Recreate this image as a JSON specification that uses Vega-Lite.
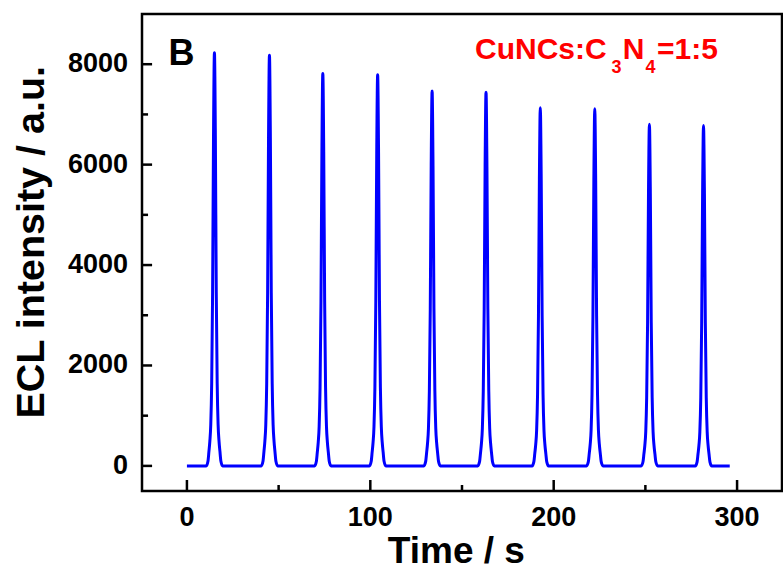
{
  "$schema": "https://vega.github.io/schema/vega-lite/v6.json",
  "width": 640,
  "height": 477,
  "autosize": {"type": "none"},
  "padding": {"left": 142, "top": 14, "right": 1, "bottom": 82},
  "background": "white",
  "config": {
    "view": {"stroke": "black", "strokeWidth": 2.5}
  },
  "data": {"values": [
    {"t": 0, "v": 0},
    {"t": 10.5, "v": 0}, {"t": 11.5, "v": 99}, {"t": 12, "v": 288}, {"t": 12.5, "v": 494}, {"t": 13, "v": 823}, {"t": 13.5, "v": 1646}, {"t": 14, "v": 3457}, {"t": 14.5, "v": 6584}, {"t": 15, "v": 8230}, {"t": 15.5, "v": 6584}, {"t": 16, "v": 3457}, {"t": 16.5, "v": 1646}, {"t": 17, "v": 823}, {"t": 17.5, "v": 494}, {"t": 18, "v": 288}, {"t": 18.5, "v": 99}, {"t": 19.5, "v": 0},
    {"t": 40.5, "v": 0}, {"t": 41.5, "v": 98}, {"t": 42, "v": 286}, {"t": 42.5, "v": 491}, {"t": 43, "v": 818}, {"t": 43.5, "v": 1636}, {"t": 44, "v": 3436}, {"t": 44.5, "v": 6544}, {"t": 45, "v": 8180}, {"t": 45.5, "v": 6544}, {"t": 46, "v": 3436}, {"t": 46.5, "v": 1636}, {"t": 47, "v": 818}, {"t": 47.5, "v": 491}, {"t": 48, "v": 286}, {"t": 48.5, "v": 98}, {"t": 49.5, "v": 0},
    {"t": 69.6, "v": 0}, {"t": 70.6, "v": 94}, {"t": 71.1, "v": 274}, {"t": 71.6, "v": 469}, {"t": 72.1, "v": 782}, {"t": 72.6, "v": 1563}, {"t": 73.1, "v": 3283}, {"t": 73.6, "v": 6254}, {"t": 74.1, "v": 7817}, {"t": 74.6, "v": 6254}, {"t": 75.1, "v": 3283}, {"t": 75.6, "v": 1563}, {"t": 76.1, "v": 782}, {"t": 76.6, "v": 469}, {"t": 77.1, "v": 274}, {"t": 77.6, "v": 94}, {"t": 78.6, "v": 0},
    {"t": 99.5, "v": 0}, {"t": 100.5, "v": 93}, {"t": 101, "v": 273}, {"t": 101.5, "v": 467}, {"t": 102, "v": 779}, {"t": 102.5, "v": 1558}, {"t": 103, "v": 3272}, {"t": 103.5, "v": 6232}, {"t": 104, "v": 7790}, {"t": 104.5, "v": 6232}, {"t": 105, "v": 3272}, {"t": 105.5, "v": 1558}, {"t": 106, "v": 779}, {"t": 106.5, "v": 467}, {"t": 107, "v": 273}, {"t": 107.5, "v": 93}, {"t": 108.5, "v": 0},
    {"t": 129.2, "v": 0}, {"t": 130.2, "v": 90}, {"t": 130.7, "v": 261}, {"t": 131.2, "v": 448}, {"t": 131.7, "v": 746}, {"t": 132.2, "v": 1493}, {"t": 132.7, "v": 3135}, {"t": 133.2, "v": 5971}, {"t": 133.7, "v": 7464}, {"t": 134.2, "v": 5971}, {"t": 134.7, "v": 3135}, {"t": 135.2, "v": 1493}, {"t": 135.7, "v": 746}, {"t": 136.2, "v": 448}, {"t": 136.7, "v": 261}, {"t": 137.2, "v": 90}, {"t": 138.2, "v": 0},
    {"t": 158.6, "v": 0}, {"t": 159.6, "v": 89}, {"t": 160.1, "v": 261}, {"t": 160.6, "v": 447}, {"t": 161.1, "v": 744}, {"t": 161.6, "v": 1489}, {"t": 162.1, "v": 3126}, {"t": 162.6, "v": 5955}, {"t": 163.1, "v": 7444}, {"t": 163.6, "v": 5955}, {"t": 164.1, "v": 3126}, {"t": 164.6, "v": 1489}, {"t": 165.1, "v": 744}, {"t": 165.6, "v": 447}, {"t": 166.1, "v": 261}, {"t": 166.6, "v": 89}, {"t": 167.6, "v": 0},
    {"t": 188.2, "v": 0}, {"t": 189.2, "v": 86}, {"t": 189.7, "v": 250}, {"t": 190.2, "v": 428}, {"t": 190.7, "v": 713}, {"t": 191.2, "v": 1426}, {"t": 191.7, "v": 2995}, {"t": 192.2, "v": 5705}, {"t": 192.7, "v": 7131}, {"t": 193.2, "v": 5705}, {"t": 193.7, "v": 2995}, {"t": 194.2, "v": 1426}, {"t": 194.7, "v": 713}, {"t": 195.2, "v": 428}, {"t": 195.7, "v": 250}, {"t": 196.2, "v": 86}, {"t": 197.2, "v": 0},
    {"t": 217.9, "v": 0}, {"t": 218.9, "v": 85}, {"t": 219.4, "v": 249}, {"t": 219.9, "v": 427}, {"t": 220.4, "v": 711}, {"t": 220.9, "v": 1422}, {"t": 221.4, "v": 2987}, {"t": 221.9, "v": 5689}, {"t": 222.4, "v": 7111}, {"t": 222.9, "v": 5689}, {"t": 223.4, "v": 2987}, {"t": 223.9, "v": 1422}, {"t": 224.4, "v": 711}, {"t": 224.9, "v": 427}, {"t": 225.4, "v": 249}, {"t": 225.9, "v": 85}, {"t": 226.9, "v": 0},
    {"t": 247.7, "v": 0}, {"t": 248.7, "v": 82}, {"t": 249.2, "v": 238}, {"t": 249.7, "v": 408}, {"t": 250.2, "v": 680}, {"t": 250.7, "v": 1361}, {"t": 251.2, "v": 2857}, {"t": 251.7, "v": 5442}, {"t": 252.2, "v": 6803}, {"t": 252.7, "v": 5442}, {"t": 253.2, "v": 2857}, {"t": 253.7, "v": 1361}, {"t": 254.2, "v": 680}, {"t": 254.7, "v": 408}, {"t": 255.2, "v": 238}, {"t": 255.7, "v": 82}, {"t": 256.7, "v": 0},
    {"t": 277.2, "v": 0}, {"t": 278.2, "v": 81}, {"t": 278.7, "v": 237}, {"t": 279.2, "v": 407}, {"t": 279.7, "v": 678}, {"t": 280.2, "v": 1355}, {"t": 280.7, "v": 2846}, {"t": 281.2, "v": 5422}, {"t": 281.7, "v": 6777}, {"t": 282.2, "v": 5422}, {"t": 282.7, "v": 2846}, {"t": 283.2, "v": 1355}, {"t": 283.7, "v": 678}, {"t": 284.2, "v": 407}, {"t": 284.7, "v": 237}, {"t": 285.2, "v": 81}, {"t": 286.2, "v": 0},
    {"t": 296, "v": 0}
  ]},
  "layer": [
    {
      "mark": {"type": "line", "color": "#0000ff", "strokeWidth": 3, "interpolate": "monotone"},
      "encoding": {
        "x": {"field": "t", "type": "quantitative", "scale": {"domain": [-24.5, 324.5], "nice": false, "zero": false}, "axis": null},
        "y": {"field": "v", "type": "quantitative", "scale": {"domain": [-500, 9000], "nice": false, "zero": false}, "axis": null}
      }
    },
    {
      "data": {"values": [{"tick": 0}, {"tick": 100}, {"tick": 200}, {"tick": 300}]},
      "mark": {"type": "rule", "color": "black", "strokeWidth": 2.5},
      "encoding": {"x": {"field": "tick", "type": "quantitative", "axis": null}, "y": {"datum": -500, "type": "quantitative", "axis": null}, "y2": {"datum": -281}}
    },
    {
      "data": {"values": [{"tick": 50}, {"tick": 150}, {"tick": 250}]},
      "mark": {"type": "rule", "color": "black", "strokeWidth": 2.5},
      "encoding": {"x": {"field": "tick", "type": "quantitative", "axis": null}, "y": {"datum": -500, "type": "quantitative", "axis": null}, "y2": {"datum": -380}}
    },
    {
      "data": {"values": [{"tick": 0}, {"tick": 2000}, {"tick": 4000}, {"tick": 6000}, {"tick": 8000}]},
      "mark": {"type": "rule", "color": "black", "strokeWidth": 2.5},
      "encoding": {"y": {"field": "tick", "type": "quantitative", "axis": null}, "x": {"datum": -24.5, "type": "quantitative", "axis": null}, "x2": {"datum": -19.0}}
    },
    {
      "data": {"values": [{"tick": 1000}, {"tick": 3000}, {"tick": 5000}, {"tick": 7000}]},
      "mark": {"type": "rule", "color": "black", "strokeWidth": 2.5},
      "encoding": {"y": {"field": "tick", "type": "quantitative", "axis": null}, "x": {"datum": -24.5, "type": "quantitative", "axis": null}, "x2": {"datum": -21.2}}
    },
    {
      "data": {"values": [{"tick": 0}, {"tick": 100}, {"tick": 200}, {"tick": 300}]},
      "mark": {"type": "text", "font": "Liberation Sans", "fontWeight": "bold", "fontSize": 27, "color": "black", "align": "center", "baseline": "alphabetic"},
      "encoding": {"x": {"field": "tick", "type": "quantitative", "axis": null}, "y": {"datum": -1198, "type": "quantitative", "axis": null}, "text": {"field": "tick", "type": "quantitative", "format": "d"}}
    },
    {
      "data": {"values": [{"tick": 0}, {"tick": 2000}, {"tick": 4000}, {"tick": 6000}, {"tick": 8000}]},
      "mark": {"type": "text", "font": "Liberation Sans", "fontWeight": "bold", "fontSize": 27, "color": "black", "align": "right", "baseline": "middle"},
      "encoding": {"y": {"field": "tick", "type": "quantitative", "axis": null}, "x": {"datum": -32.1, "type": "quantitative", "axis": null}, "text": {"field": "tick", "type": "quantitative", "format": "d"}}
    },
    {
      "data": {"values": [{}]},
      "mark": {"type": "text", "text": "Time / s", "font": "Liberation Sans", "fontWeight": "bold", "fontSize": 37, "color": "black", "align": "center", "baseline": "alphabetic"},
      "encoding": {"x": {"datum": 146.9, "type": "quantitative", "axis": null}, "y": {"datum": -1935, "type": "quantitative", "axis": null}}
    },
    {
      "data": {"values": [{}]},
      "mark": {"type": "text", "text": "ECL intensity / a.u.", "font": "Liberation Sans", "fontWeight": "bold", "fontSize": 39.5, "color": "black", "align": "center", "baseline": "alphabetic", "angle": 270},
      "encoding": {"x": {"datum": -77.7, "type": "quantitative", "axis": null}, "y": {"datum": 4454, "type": "quantitative", "axis": null}}
    },
    {
      "data": {"values": [{}]},
      "mark": {"type": "text", "text": "B", "font": "Liberation Sans", "fontWeight": "bold", "fontSize": 36, "color": "black", "align": "left", "baseline": "alphabetic"},
      "encoding": {"x": {"datum": -10, "type": "quantitative", "axis": null}, "y": {"datum": 7986, "type": "quantitative", "axis": null}}
    },
    {
      "data": {"values": [{}]},
      "mark": {"type": "text", "text": "CuNCs:C", "font": "Liberation Sans", "fontWeight": "bold", "fontSize": 30, "color": "#ff0000", "align": "left", "baseline": "alphabetic"},
      "encoding": {"x": {"datum": 157.1, "type": "quantitative", "axis": null}, "y": {"datum": 8099, "type": "quantitative", "axis": null}}
    },
    {
      "data": {"values": [{}]},
      "mark": {"type": "text", "text": "3", "font": "Liberation Sans", "fontWeight": "bold", "fontSize": 18, "color": "#ff0000", "align": "left", "baseline": "alphabetic"},
      "encoding": {"x": {"datum": 231.5, "type": "quantitative", "axis": null}, "y": {"datum": 7830, "type": "quantitative", "axis": null}}
    },
    {
      "data": {"values": [{}]},
      "mark": {"type": "text", "text": "N", "font": "Liberation Sans", "fontWeight": "bold", "fontSize": 30, "color": "#ff0000", "align": "left", "baseline": "alphabetic"},
      "encoding": {"x": {"datum": 237.7, "type": "quantitative", "axis": null}, "y": {"datum": 8099, "type": "quantitative", "axis": null}}
    },
    {
      "data": {"values": [{}]},
      "mark": {"type": "text", "text": "4", "font": "Liberation Sans", "fontWeight": "bold", "fontSize": 18, "color": "#ff0000", "align": "left", "baseline": "alphabetic"},
      "encoding": {"x": {"datum": 250.0, "type": "quantitative", "axis": null}, "y": {"datum": 7830, "type": "quantitative", "axis": null}}
    },
    {
      "data": {"values": [{}]},
      "mark": {"type": "text", "text": "=1:5", "font": "Liberation Sans", "fontWeight": "bold", "fontSize": 30, "color": "#ff0000", "align": "left", "baseline": "alphabetic"},
      "encoding": {"x": {"datum": 256.3, "type": "quantitative", "axis": null}, "y": {"datum": 8099, "type": "quantitative", "axis": null}}
    }
  ]
}
